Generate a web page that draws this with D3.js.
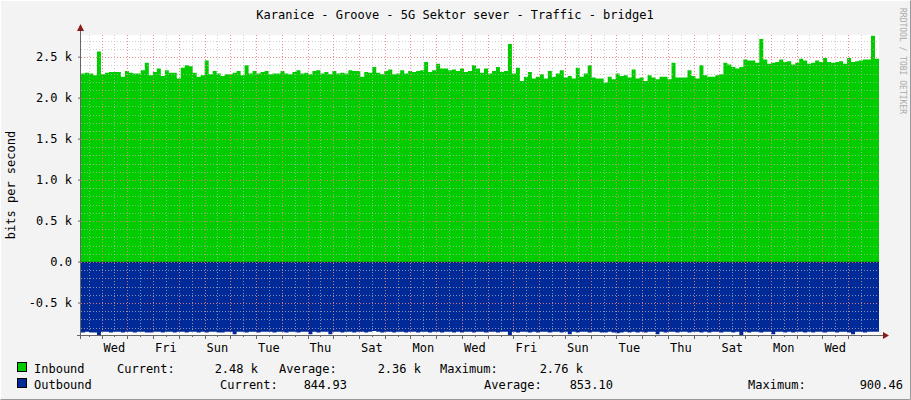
<!DOCTYPE html><html><head><meta charset="utf-8">
<script src="https://d3js.org/d3.v7.min.js"></script>
<style>body{margin:0;background:#f3f3f3}text{font-family:"DejaVu Sans Mono",monospace}</style></head><body>
<svg id="c" width="911" height="400"></svg>
<script>
const title="Karanice - Groove - 5G Sektor sever - Traffic - bridge1";
const dayLabels=["Wed","Fri","Sun","Tue","Thu","Sat","Mon","Wed","Fri","Sun","Tue","Thu","Sat","Mon","Wed"];
const yTicks=[2.5,2.0,1.5,1.0,0.5,0.0,-0.5];
const yTickLabels=["2.5 k","2.0 k","1.5 k","1.0 k","0.5 k","0.0","-0.5 k"];
const inbound=[2.30,2.31,2.30,2.28,2.57,2.29,2.31,2.32,2.32,2.32,2.26,2.33,2.31,2.30,2.30,2.34,2.43,2.28,2.32,2.36,
2.27,2.34,2.31,2.31,2.24,2.37,2.40,2.39,2.31,2.26,2.28,2.46,2.29,2.33,2.30,2.27,2.29,2.29,2.31,2.33,
2.28,2.40,2.30,2.33,2.30,2.32,2.33,2.29,2.30,2.30,2.33,2.30,2.29,2.32,2.34,2.30,2.31,2.29,2.33,2.34,
2.30,2.32,2.29,2.33,2.30,2.31,2.30,2.34,2.33,2.33,2.26,2.32,2.31,2.38,2.31,2.29,2.33,2.35,2.29,2.30,
2.34,2.30,2.33,2.32,2.33,2.34,2.44,2.32,2.34,2.42,2.36,2.36,2.34,2.35,2.33,2.36,2.32,2.33,2.40,2.36,
2.31,2.36,2.30,2.33,2.38,2.32,2.33,2.66,2.30,2.37,2.21,2.26,2.32,2.24,2.26,2.29,2.24,2.33,2.26,2.30,
2.34,2.25,2.27,2.24,2.37,2.26,2.30,2.40,2.25,2.24,2.24,2.19,2.26,2.23,2.30,2.27,2.28,2.25,2.35,2.24,
2.25,2.21,2.28,2.25,2.23,2.26,2.26,2.23,2.43,2.25,2.25,2.25,2.34,2.27,2.24,2.40,2.28,2.26,2.26,2.28,
2.29,2.43,2.41,2.38,2.36,2.38,2.47,2.46,2.46,2.43,2.72,2.47,2.42,2.43,2.44,2.47,2.44,2.45,2.41,2.43,
2.48,2.46,2.42,2.43,2.46,2.44,2.49,2.44,2.43,2.44,2.45,2.42,2.49,2.44,2.45,2.46,2.47,2.47,2.76,2.48];
const outbound=[0.86,0.85,0.86,0.86,0.89,0.85,0.85,0.86,0.85,0.85,0.86,0.85,0.85,0.86,0.85,0.85,0.86,0.86,0.85,0.85,
0.86,0.85,0.85,0.86,0.85,0.85,0.86,0.85,0.85,0.86,0.85,0.86,0.85,0.85,0.86,0.86,0.85,0.85,0.88,0.85,
0.85,0.86,0.85,0.85,0.86,0.85,0.85,0.85,0.86,0.85,0.85,0.86,0.85,0.85,0.86,0.85,0.85,0.88,0.85,0.86,
0.85,0.85,0.88,0.85,0.85,0.86,0.85,0.85,0.86,0.85,0.85,0.86,0.85,0.84,0.85,0.86,0.85,0.85,0.86,0.85,
0.85,0.86,0.85,0.85,0.86,0.85,0.85,0.86,0.85,0.85,0.86,0.85,0.85,0.86,0.85,0.86,0.85,0.85,0.86,0.85,
0.85,0.86,0.85,0.85,0.86,0.85,0.85,0.89,0.85,0.86,0.85,0.85,0.86,0.85,0.86,0.85,0.85,0.86,0.85,0.85,
0.86,0.85,0.88,0.85,0.86,0.85,0.85,0.86,0.85,0.85,0.86,0.86,0.85,0.86,0.87,0.86,0.85,0.86,0.85,0.86,
0.85,0.86,0.85,0.85,0.88,0.85,0.86,0.85,0.85,0.86,0.85,0.85,0.86,0.85,0.85,0.86,0.85,0.86,0.85,0.85,
0.86,0.85,0.85,0.86,0.85,0.89,0.85,0.86,0.85,0.85,0.86,0.85,0.85,0.88,0.85,0.85,0.86,0.85,0.86,0.85,
0.85,0.86,0.85,0.86,0.85,0.85,0.86,0.85,0.85,0.86,0.85,0.85,0.86,0.88,0.85,0.85,0.86,0.85,0.85,0.85];
const legendRows=[
 {name:"Inbound",color:"#00cc00",items:[["Current:",117],["2.48 k",258,"end"],["Average:",279],["2.36 k",421,"end"],["Maximum:",440],["2.76 k",583,"end"]]},
 {name:"Outbound",color:"#002a97",items:[["Current:",220],["844.93",347,"end"],["Average:",484],["853.10",613,"end"],["Maximum:",748],["900.46",903,"end"]]}];

const svg=d3.select("#c");
const L=81,R=879,T=35,B=335;
// frame
svg.append("rect").attr("x",0.5).attr("y",0.5).attr("width",910).attr("height",399).attr("fill","#f3f3f3").attr("stroke","#fff");
svg.append("path").attr("d","M910.5,0.5V399.5H0.5").attr("stroke","#999").attr("fill","none");
svg.append("rect").attr("x",L).attr("y",T).attr("width",R-L).attr("height",B-T).attr("fill","#fff");
const days=31;
const x=d3.scaleLinear().domain([0,days]).range([L,R]);
const y=d3.scaleLinear().domain([-0.89,2.77]).range([B,T]);
const n=inbound.length;
const xi=d3.scaleLinear().domain([0,n]).range([L,R]);
const inA=d3.area().curve(d3.curveStepAfter).x((d,i)=>xi(i)).y0(y(0)).y1(d=>y(d));
const outA=d3.area().curve(d3.curveStepAfter).x((d,i)=>xi(i)).y0(y(0)).y1(d=>y(-d));
const ext=a=>a.concat([a[a.length-1]]);
svg.append("path").attr("d",inA(ext(inbound))).attr("fill","#00cc00");
svg.append("path").attr("d",outA(ext(outbound))).attr("fill","#002a97");
// grid
const g=svg.append("g");
for(let v=-8;v<=27;v++){const val=v/10;const major=(v%5===0);
 g.append("line").attr("x1",L).attr("x2",R).attr("y1",Math.round(y(val))+0.5).attr("y2",Math.round(y(val))+0.5)
  .attr("stroke",major?"#f08080":"#bbb").attr("stroke-width",1).attr("stroke-dasharray","1,2").attr("opacity",major?0.9:0.7);}
for(let k=0;k<62;k++){const d=0.8+k/2-1;if(d<=0||d>=days)continue;const major=(k%2===0);
 g.append("line").attr("y1",T).attr("y2",B).attr("x1",Math.round(x(d))+0.5).attr("x2",Math.round(x(d))+0.5)
  .attr("stroke",major?"#f08080":"#bbb").attr("stroke-dasharray","1,2").attr("opacity",major?0.9:0.7);}
// zero line
svg.append("line").attr("x1",L).attr("x2",R).attr("y1",y(0)).attr("y2",y(0)).attr("stroke","#000").attr("stroke-width",0.6).attr("opacity",0.5);
// axes
svg.append("line").attr("x1",L-0.5).attr("x2",L-0.5).attr("y1",B+4).attr("y2",T-6).attr("stroke","#666");
svg.append("line").attr("x1",L-4).attr("x2",R+6).attr("y1",B+0.5).attr("y2",B+0.5).attr("stroke","#666");
svg.append("path").attr("d",`M${L-4},${T-4}L${L+3},${T-4}L${L-0.5},${T-11}Z`).attr("fill","#8b1a1a");
svg.append("path").attr("d",`M${R+4},${B-3}L${R+4},${B+4}L${R+10},${B+0.5}Z`).attr("fill","#8b1a1a");
for(let k=0;k<62;k++){const d=0.8+k/2-1;if(d<=0||d>=days)continue;
 svg.append("line").attr("x1",Math.round(x(d))+0.5).attr("x2",Math.round(x(d))+0.5).attr("y1",B).attr("y2",B+(k%2===0?4:2)).attr("stroke","#666");}
yTicks.forEach((v,i)=>{svg.append("line").attr("x1",L-3).attr("x2",L).attr("y1",y(v)).attr("y2",y(v)).attr("stroke","#666");
 svg.append("text").attr("x",72).attr("y",y(v)+4).attr("text-anchor","end").attr("font-size",12).attr("fill","#000").text(yTickLabels[i]);});
dayLabels.forEach((t,i)=>svg.append("text").attr("x",x(0.8+0.5+2*i)).attr("y",352).attr("text-anchor","middle").attr("font-size",12).text(t));
svg.append("text").attr("x",455).attr("y",19).attr("text-anchor","middle").attr("font-size",12).text(title);
svg.append("text").attr("transform","translate(15,185) rotate(-90)").attr("text-anchor","middle").attr("font-size",12).text("bits per second");
svg.append("text").attr("transform","translate(900,8) rotate(90)").attr("font-size",8).attr("fill","#aaa").text("RRDTOOL / TOBI OETIKER");
legendRows.forEach((r,j)=>{const yy=373+j*16;
 svg.append("rect").attr("x",17.5).attr("y",yy-10.5).attr("width",9).attr("height",9).attr("fill",r.color).attr("stroke","#000");
 svg.append("text").attr("x",34).attr("y",yy).attr("font-size",12).text(r.name);
 r.items.forEach(it=>svg.append("text").attr("x",it[1]).attr("y",yy).attr("text-anchor",it[2]||"start").attr("font-size",12).text(it[0]));});
</script></body></html>
